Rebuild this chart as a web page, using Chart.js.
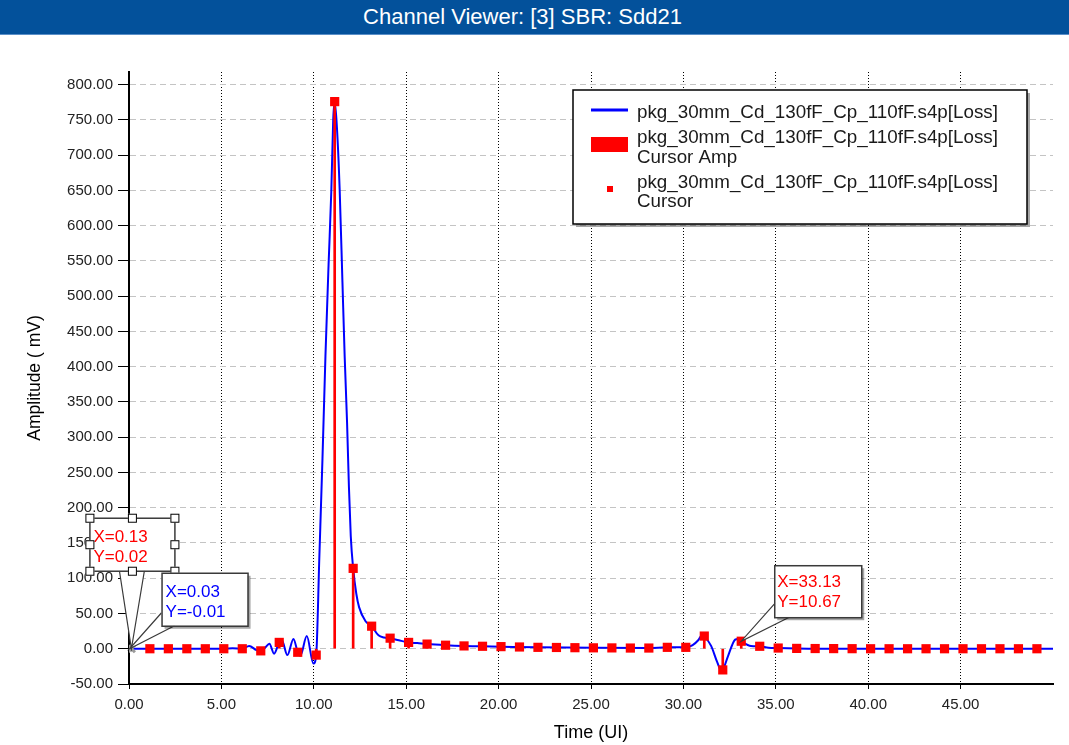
<!DOCTYPE html>
<html>
<head>
<meta charset="utf-8">
<script src="https://cdn.jsdelivr.net/npm/chart.js@4.4.1/dist/chart.umd.min.js"></script>
<style>
    body { margin: 0; background: #fff; width: 1069px; height: 745px; overflow: hidden; font-family: "Liberation Sans", Arial, sans-serif; }
    #bar { position: relative; height: 34px; background: #03519b; border-bottom: 1px solid #5a8fc8; color: #fff; }
    #bar span { position: absolute; left: 0; width: 1045px; text-align: center; top: 0; line-height: 34px; font-size: 22px; }
    #wrap { position: relative; width: 1069px; height: 710px; }
</style>
</head>
<body>
<div id="bar"><span>Channel Viewer: [3] SBR: Sdd21</span></div>
<div id="wrap"><canvas id="sbrChart" width="1069" height="710"></canvas></div>
<script>
// SBR pulse response
const FONT = '"Liberation Sans", Arial, sans-serif';
const seriesName = 'pkg_30mm_Cd_130fF_Cp_110fF.s4p[Loss]';

// waveform samples (UI, mV)
const waveTime = [0, 0.03, 1.13, 2.13, 3.13, 4.13, 5.13, 5.6, 6.13, 6.5, 6.9, 7.13, 7.35, 7.6, 7.85,
    8.13, 8.27, 8.57, 8.9, 9.13, 9.27, 9.62, 9.98, 10.13, 10.3, 10.47, 10.63, 10.8, 10.95, 11.05,
    11.13, 11.25, 11.4, 11.55, 11.67, 11.8, 11.9, 12.0, 12.13, 12.3, 12.45, 12.8, 13.13, 13.5, 13.8,
    14.13, 14.6, 15.13, 15.6, 16.13, 17.13, 18.13, 19.13, 20.13, 22.13, 25.13, 28.13, 29.13, 30.13,
    30.5, 30.8, 31.03, 31.13, 31.5, 31.83, 32.05, 32.13, 32.42, 32.8, 32.95, 33.13, 33.66, 34.13,
    34.6, 35.13, 36.13, 38.13, 50];
const waveAmp = [0, -0.01, 0, 0, 0, 0, 0, 0.8, 0, 4, -2, -3, 1, 7, -7,
    9, 12, -9, 14, -5, -10, 18, -21, -9, 130, 270, 415, 545, 651, 750,
    776, 740, 651, 520, 415, 321, 230, 160, 114, 78, 59, 39, 32, 19, 16,
    15, 12, 9, 8, 6.6, 5, 4, 3.5, 3, 2, 1.3, 1, 2, 2,
    5, 12, 20, 18, 4, -19, -31, -30, -10, 13, 14, 10.67, 4, 3.5,
    1.5, 1, 0.5, 0, 0];

// cursor samples, one per UI
const cursorTime = [0.13, 1.13, 2.13, 3.13, 4.13, 5.13, 6.13, 7.13, 8.13, 9.13,
    10.13, 11.13, 12.13, 13.13, 14.13, 15.13, 16.13, 17.13, 18.13, 19.13,
    20.13, 21.13, 22.13, 23.13, 24.13, 25.13, 26.13, 27.13, 28.13, 29.13,
    30.13, 31.13, 32.13, 33.13, 34.13, 35.13, 36.13, 37.13, 38.13, 39.13,
    40.13, 41.13, 42.13, 43.13, 44.13, 45.13, 46.13, 47.13, 48.13, 49.13];
const cursorAmp = [0.02, 0, 0, 0, 0, 0, 0, -3, 9, -5,
    -9, 776, 114, 32, 15, 9, 6.6, 5, 4, 3.5,
    3, 2.5, 2, 1.8, 1.5, 1.3, 1.2, 1, 1, 2,
    2, 18, -30, 10.67, 3.5, 1, 0.5, 0.3, 0.2, 0.1,
    0, 0, 0, 0, 0, 0, 0, 0, 0, 0];

const xTicks = [0, 5, 10, 15, 20, 25, 30, 35, 40, 45];
const yTicks = [-50, 0, 50, 100, 150, 200, 250, 300, 350, 400, 450, 500, 550, 600, 650, 700, 750, 800];

// callout boxes: anchor in data units, geometry in px relative to anchor
const callouts = [
    { x: 0.13, y: 0.02, color: '#ff0000', lines: ['X=0.13', 'Y=0.02'], box: [-42, -131, 85, 53],
      tail: [[-12, -78], [13, -78]], text: [-38, -107, -87], handles: true },
    { x: 0.03, y: -0.01, color: '#0000ff', lines: ['X=0.03', 'Y=-0.01'], box: [32, -76, 86, 53],
      tail: [[32, -36], [45, -23]], text: [36, -52, -32], shadow: true },
    { x: 33.13, y: 10.67, color: '#ff0000', lines: ['X=33.13', 'Y=10.67'], box: [33, -76, 87, 52],
      tail: [[33, -37], [48, -24]], text: [36, -54, -34], shadow: true }
];

const calloutPlugin = {
    id: 'callouts',
    afterDatasetsDraw(chart) {
        const ctx = chart.ctx;
        const xs = chart.scales.x, ys = chart.scales.y;
        ctx.save();
        callouts.forEach(c => {
            const ax = xs.getPixelForValue(c.x);
            const ay = ys.getPixelForValue(c.y);
            const [bx, by, bw, bh] = c.box;
            // tail
            ctx.fillStyle = '#fff';
            ctx.strokeStyle = '#3a3a3a';
            ctx.lineWidth = 1.2;
            ctx.beginPath();
            ctx.moveTo(ax + c.tail[0][0], ay + c.tail[0][1]);
            ctx.lineTo(ax, ay);
            ctx.lineTo(ax + c.tail[1][0], ay + c.tail[1][1]);
            ctx.closePath();
            ctx.fill();
            ctx.beginPath();
            ctx.moveTo(ax + c.tail[0][0], ay + c.tail[0][1]);
            ctx.lineTo(ax, ay);
            ctx.lineTo(ax + c.tail[1][0], ay + c.tail[1][1]);
            ctx.stroke();
            if (c.shadow) {
                ctx.fillStyle = 'rgba(0,0,0,0.35)';
                ctx.fillRect(ax + bx + 3, ay + by + 3, bw, bh);
            }
            ctx.fillStyle = '#fff';
            ctx.fillRect(ax + bx, ay + by, bw, bh);
            ctx.lineWidth = 1.5;
            ctx.strokeRect(ax + bx + 0.5, ay + by + 0.5, bw, bh);
            ctx.fillStyle = c.color;
            ctx.font = '17px ' + FONT;
            ctx.textBaseline = 'alphabetic';
            ctx.textAlign = 'left';
            ctx.fillText(c.lines[0], ax + c.text[0], ay + c.text[1]);
            ctx.fillText(c.lines[1], ax + c.text[0], ay + c.text[2]);
            if (c.handles) {
                const hx = [bx, bx + bw / 2, bx + bw], hy = [by, by + bh / 2, by + bh];
                ctx.lineWidth = 1;
                ctx.strokeStyle = '#000';
                hy.forEach((yy, j) => hx.forEach((xx, i) => {
                    if (i === 1 && j === 1) return;
                    ctx.fillStyle = '#fff';
                    ctx.fillRect(ax + xx - 4, ay + yy - 4, 9, 9);
                    ctx.strokeRect(ax + xx - 4 + 0.5, ay + yy - 4 + 0.5, 8, 8);
                }));
            }
        });
        ctx.restore();
    }
};

const legendPlugin = {
    id: 'boxLegend',
    afterDraw(chart) {
        const ctx = chart.ctx;
        const ds = chart.data.datasets;
        const L = 573, T = 55, W = 454, H = 134;
        ctx.save();
        ctx.fillStyle = 'rgba(0,0,0,0.35)';
        ctx.fillRect(L + 3, T + 3, W, H);
        ctx.fillStyle = '#fff';
        ctx.fillRect(L, T, W, H);
        ctx.strokeStyle = '#000';
        ctx.lineWidth = 1.5;
        ctx.strokeRect(L, T, W, H);

        ctx.strokeStyle = ds[0].borderColor;
        ctx.lineWidth = 3;
        ctx.beginPath();
        ctx.moveTo(591, 75);
        ctx.lineTo(628, 75);
        ctx.stroke();
        ctx.fillStyle = ds[1].backgroundColor;
        ctx.fillRect(591, 102, 37, 15);
        ctx.fillRect(607, 151, 6, 6);

        ctx.fillStyle = '#1a1a1a';
        ctx.font = '18.8px ' + FONT;
        ctx.textBaseline = 'alphabetic';
        ctx.textAlign = 'left';
        const rows = [[ds[0].label, 82.5], [seriesName, 108], ['Cursor Amp', 127.5], [seriesName, 153], ['Cursor', 171.5]];
        rows.forEach(r => ctx.fillText(r[0], 637, r[1]));
        ctx.restore();
    }
};

const chartCtx = document.getElementById('sbrChart');
new Chart(chartCtx, {
    type: 'line',
    data: {
        datasets: [{
            type: 'line',
            label: seriesName,
            data: waveTime.map((t, i) => ({ x: t, y: waveAmp[i] })),
            borderColor: '#0000ff',
            borderWidth: 2,
            pointRadius: 0,
            cubicInterpolationMode: 'monotone',
            order: 3
        }, {
            type: 'bar',
            label: seriesName + ' Cursor Amp',
            data: cursorTime.map((t, i) => ({ x: t, y: cursorAmp[i] })),
            backgroundColor: '#ff0000',
            borderWidth: 0,
            barThickness: 2,
            order: 2
        }, {
            type: 'scatter',
            label: seriesName + ' Cursor',
            data: cursorTime.map((t, i) => ({ x: t, y: cursorAmp[i] })),
            showLine: false,
            pointStyle: cursorTime.map((t, i) => i === 0 ? 'crossRot' : 'rect'),
            pointRadius: cursorTime.map((t, i) => i === 0 ? 5 : 6.5),
            backgroundColor: cursorTime.map((t, i) => i === 0 ? '#e8b8b8' : '#ff0000'),
            borderColor: cursorTime.map((t, i) => i === 0 ? '#9a9a9a' : '#ff0000'),
            borderWidth: cursorTime.map((t, i) => i === 0 ? 3 : 0),
            order: 1
        }]
    },
    options: {
        responsive: false,
        maintainAspectRatio: false,
        animation: false,
        layout: { padding: { top: 37, right: 16, left: 0, bottom: 0 } },
        plugins: {
            legend: { display: false },
            tooltip: { enabled: false }
        },
        scales: {
            x: {
                type: 'linear',
                min: 0,
                max: 50,
                offset: false,
                afterBuildTicks: s => { s.ticks = xTicks.map(v => ({ value: v })); },
                afterFit: s => { s.height = 61; },
                grid: { color: '#000', lineWidth: 1, offset: false, tickColor: '#000', tickLength: 5 },
                border: { color: '#000', width: 2, dash: [1, 2] },
                ticks: {
                    color: '#222', padding: 7, maxRotation: 0,
                    font: { family: FONT, size: 15 },
                    callback: v => v.toFixed(2)
                },
                title: {
                    display: true, text: 'Time (UI)', color: '#000',
                    font: { family: FONT, size: 18 }, padding: { top: 0, bottom: 1 }
                }
            },
            y: {
                type: 'linear',
                min: -50,
                max: 818,
                afterBuildTicks: s => { s.ticks = yTicks.map(v => ({ value: v })); },
                afterFit: s => { s.width = 129; },
                grid: { color: '#c4c4c4', lineWidth: 1, tickColor: '#000', tickLength: 11 },
                border: { color: '#000', width: 2, dash: [6, 4] },
                ticks: {
                    color: '#222', padding: 5,
                    font: { family: FONT, size: 15 },
                    callback: v => v.toFixed(2)
                },
                title: {
                    display: true, text: 'Amplitude ( mV)', color: '#000',
                    font: { family: FONT, size: 17.5 }, padding: { top: 25, bottom: 0 }
                }
            }
        }
    },
    plugins: [calloutPlugin, legendPlugin]
});
</script>
</body>
</html>
